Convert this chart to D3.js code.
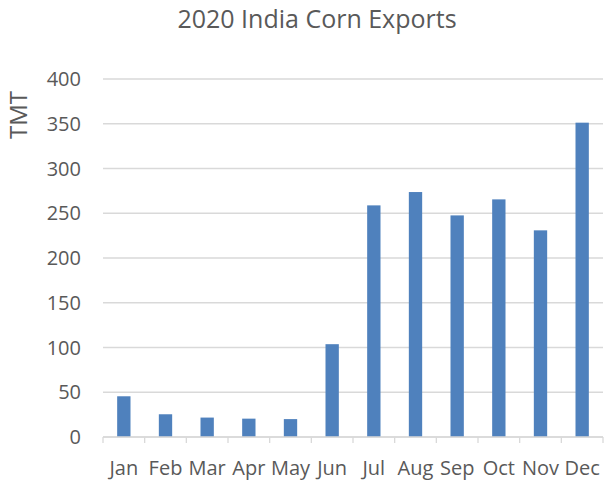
<!DOCTYPE html>
<html>
<head>
<meta charset="utf-8">
<script src="https://cdn.jsdelivr.net/npm/d3@7"></script>
<style>
  body { margin: 0; background: #fff; }
  text { font-family: "Open Sans", "Noto Sans", sans-serif; fill: #595959; }
</style>
</head>
<body>
<div id="chart"></div>
<script>
// values (TMT)
let months = ["Jan", "Feb", "Mar", "Apr", "May", "Jun", "Jul", "Aug", "Sep", "Oct", "Nov", "Dec"];
let exports = [45.5, 25.4, 21.7, 20.5, 20, 103.7, 258.8, 273.7, 247.6, 265.5, 230.9, 351.2];
let yTicks = [0, 50, 100, 150, 200, 250, 300, 350, 400];

let width = 607, height = 480;
let margin = {top: 79, right: 4, bottom: 43, left: 103};

let svg = d3.select("#chart")
    .append("svg")
    .attr("width", width)
    .attr("height", height);

let x = d3.scaleBand()
    .domain(months)
    .range([margin.left, width - margin.right])
    .paddingInner(0.68)
    .paddingOuter(0.34);

let y = d3.scaleLinear()
    .domain([0, 400])
    .range([height - margin.bottom, margin.top]);

// gridlines
svg.append("g")
    .selectAll("line")
    .data(yTicks)
    .enter()
    .append("line")
    .attr("x1", margin.left)
    .attr("x2", width - margin.right)
    .attr("y1", d => y(d))
    .attr("y2", d => y(d))
    .style("stroke", "#d9d9d9")
    .style("stroke-width", 1.3);

// y labels
svg.append("g")
    .selectAll("text")
    .data(yTicks)
    .enter()
    .append("text")
    .attr("x", 81)
    .attr("y", d => y(d))
    .attr("dy", "0.36em")
    .attr("text-anchor", "end")
    .style("font-size", "20px")
    .text(d => d);

// bars
svg.append("g")
    .selectAll("rect")
    .data(exports)
    .enter()
    .append("rect")
    .attr("x", (d, i) => x(months[i]))
    .attr("width", x.bandwidth())
    .attr("y", d => y(d))
    .attr("height", d => y(0) - y(d))
    .style("fill", "#4f81bd");

// x axis line + category boundary ticks
let step = x.step();
let x0 = margin.left;
svg.append("line")
    .attr("x1", x0)
    .attr("x2", width - margin.right)
    .attr("y1", y(0))
    .attr("y2", y(0))
    .style("stroke", "#d9d9d9")
    .style("stroke-width", 1.3);

svg.append("g")
    .selectAll("line")
    .data(d3.range(months.length + 1))
    .enter()
    .append("line")
    .attr("x1", i => x0 + i * step)
    .attr("x2", i => x0 + i * step)
    .attr("y1", y(0))
    .attr("y2", y(0) + 6)
    .style("stroke", "#d9d9d9")
    .style("stroke-width", 1.3);

// month labels
svg.append("g")
    .selectAll("text")
    .data(months)
    .enter()
    .append("text")
    .attr("x", d => x(d) + x.bandwidth() / 2)
    .attr("y", 475)
    .attr("text-anchor", "middle")
    .style("font-size", "20px")
    .text(d => d);

// title
svg.append("text")
    .attr("x", 317)
    .attr("y", 28)
    .attr("text-anchor", "middle")
    .style("font-size", "25px")
    .text("2020 India Corn Exports");

// y axis title
svg.append("text")
    .attr("transform", "translate(27, 115) rotate(-90)")
    .attr("text-anchor", "middle")
    .style("font-size", "24px")
    .text("TMT");
</script>
</body>
</html>
